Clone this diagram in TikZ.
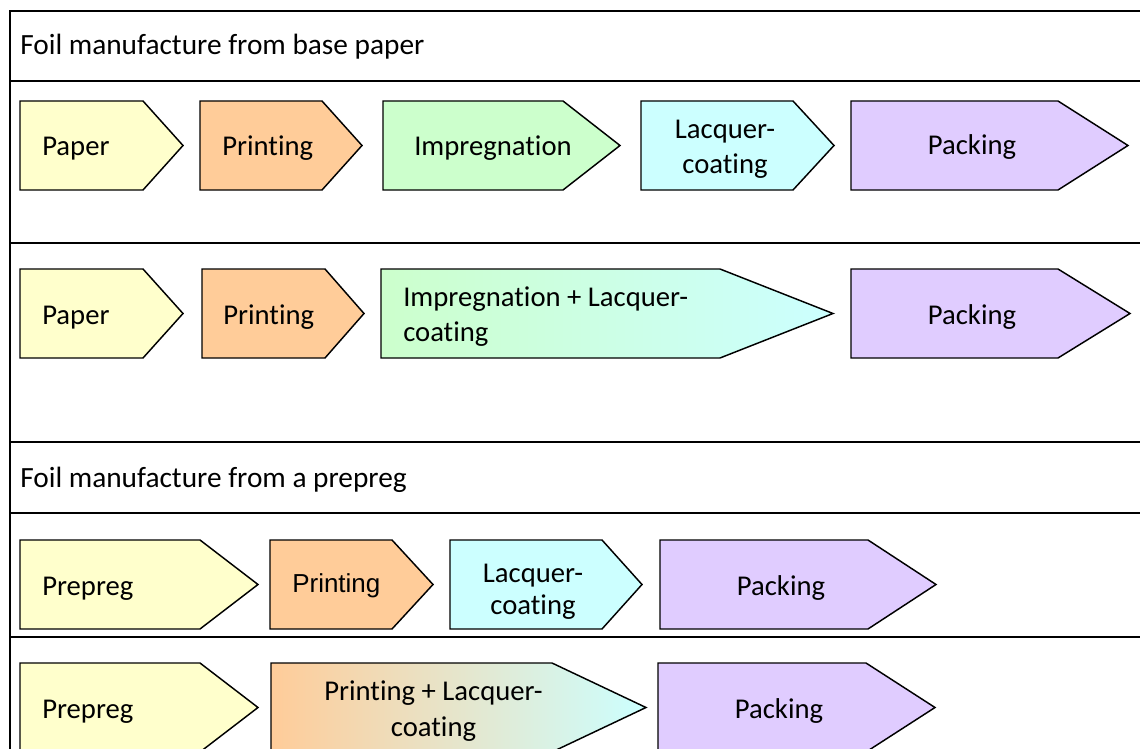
\documentclass[tikz,border=0pt]{standalone}
\usepackage{fontspec}
\setmainfont{Carlito}[Ligatures={NoCommon}]
\newfontfamily\arialfont{Liberation Sans}
\definecolor{cyel}{HTML}{FFFFCC}
\definecolor{corg}{HTML}{FFCC99}
\definecolor{cgrn}{HTML}{CCFFCC}
\definecolor{ccyn}{HTML}{CCFFFF}
\definecolor{cpur}{HTML}{E0CCFF}
\newcommand{\chevshape}[5]{\path[chevbox,#5] ({#1},{#4}) -- ({#2},{#4}) -- ({#3},{#4+44.5}) -- ({#2},{#4+89}) -- ({#1},{#4+89}) -- cycle;}
\begin{document}
\begin{tikzpicture}[x=0.75pt,y=-0.75pt,
  font=\fontsize{21.5}{26}\selectfont,
  rule/.style={line width=1.6pt, line cap=rect},
  chevbox/.style={draw=black, line width=1.1pt, line join=miter},
  lbl/.style={inner sep=0pt, anchor=base west},
  clbl/.style={inner sep=0pt, anchor=base}]
\useasboundingbox (0,0) rectangle (1140,749);
\fill[white] (0,0) rectangle (1140,749);

% table rules
\draw[rule] (10,11) -- (1140,11);
\draw[rule] (10,81) -- (1140,81);
\draw[rule] (10,243) -- (1140,243);
\draw[rule] (10,442) -- (1140,442);
\draw[rule] (10,513) -- (1140,513);
\draw[rule] (10,637) -- (1140,637);
\draw[rule] (10,11) -- (10,749);

% headers
\node[lbl,font=\fontsize{22}{26}\selectfont] (h1) at (20,55) {Foil manufacture from base paper};
\node[lbl,font=\fontsize{22}{26}\selectfont] (h2) at (20,487) {Foil manufacture from a prepreg};

% row 1
\chevshape{20}{143}{183}{101}{fill=cyel}
\chevshape{200}{322}{362}{101}{fill=corg}
\chevshape{383}{563}{620}{101}{fill=cgrn}
\chevshape{641}{793}{834}{101}{fill=ccyn}
\chevshape{851}{1058}{1128}{101}{fill=cpur}
\node[lbl] (a1) at (42,156) {Paper};
\node[lbl] (a2) at (222,156) {Printing};
\node[lbl] (a3) at (414,156) {Impregnation};
\node[clbl] (a4) at (725,139) {Lacquer-};
\node[clbl] (a4b) at (725,173) {coating};
\node[clbl] (a5) at (972,155) {Packing};

% row 2
\chevshape{20}{143}{183}{269}{fill=cyel}
\chevshape{202}{325}{364}{269}{fill=corg}
\chevshape{381}{720}{833}{269}{left color=cgrn,right color=ccyn}
\chevshape{851}{1058}{1130}{269}{fill=cpur}
\node[lbl] (b1) at (42,324) {Paper};
\node[lbl] (b2) at (223,324) {Printing};
\node[lbl] (b3) at (403,306) {Impregnation + Lacquer-};
\node[lbl] (b3b) at (403,341) {coating};
\node[clbl] (b4) at (972,324) {Packing};

% row 3
\chevshape{20}{200}{258}{540}{fill=cyel}
\chevshape{270}{392}{433}{540}{fill=corg}
\chevshape{450}{602}{642}{540}{fill=ccyn}
\chevshape{660}{868}{936}{540}{fill=cpur}
\node[lbl] (c1) at (42,595) {Prepreg};
\node[lbl,font=\arialfont\fontsize{19.5}{24}\selectfont] (c2) at (292,592) {Printing};
\node[clbl] (c3) at (533,582) {Lacquer-};
\node[clbl] (c3b) at (533,614) {coating};
\node[clbl] (c4) at (781,595) {Packing};

% row 4
\chevshape{20}{200}{258}{663}{fill=cyel}
\chevshape{271}{552}{646}{663}{left color=corg,right color=ccyn}
\chevshape{658}{866}{935}{663}{fill=cpur}
\node[lbl] (d1) at (42,718) {Prepreg};
\node[clbl] (d2) at (433.5,700) {Printing + Lacquer-};
\node[clbl] (d2b) at (433.5,736) {coating};
\node[clbl] (d3) at (779,718) {Packing};
\end{tikzpicture}
\end{document}
